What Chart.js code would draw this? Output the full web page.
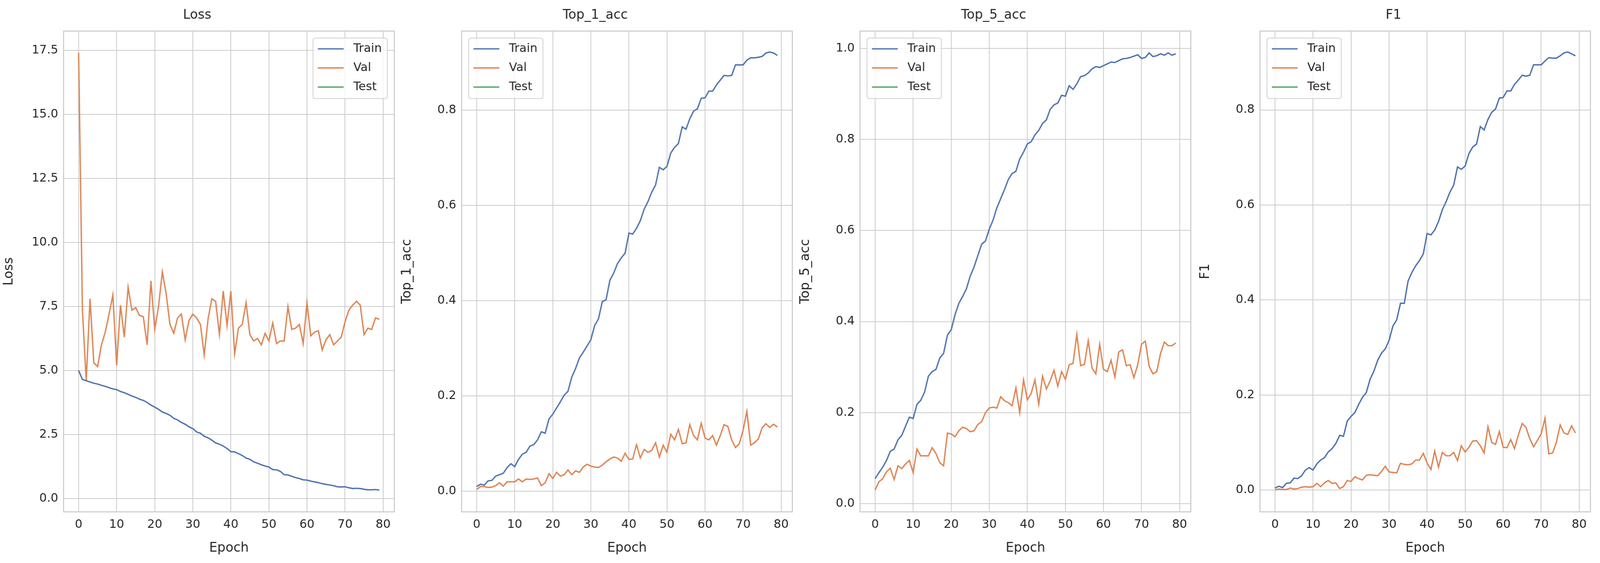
<!DOCTYPE html>
<html>
<head>
<meta charset="utf-8">
<script src="https://cdn.jsdelivr.net/npm/chart.js@4.4.1/dist/chart.umd.min.js"></script>
<style>
  html, body { margin: 0; padding: 0; background: #fff; overflow: hidden; }
  .panel { position: absolute; top: 0; width: 24.99vw; height: 100vh; }
</style>
</head>
<body>
<div class="panel" style="left:0vw"><canvas id="c0"></canvas></div>
<div class="panel" style="left:24.89vw"><canvas id="c1"></canvas></div>
<div class="panel" style="left:49.78vw"><canvas id="c2"></canvas></div>
<div class="panel" style="left:74.77vw"><canvas id="c3"></canvas></div>
<script>
const epochs = Array.from({length: 80}, (_, i) => i);
const seriesNames = ["Train", "Val", "Test"];
const seriesColors = ["#4c72b0", "#dd8452", "#55a868"];

const lossTrain = [5.0,4.65,4.6,4.55,4.5,4.47,4.42,4.38,4.33,4.28,4.25,4.18,4.13,4.07,4.0,3.95,3.88,3.83,3.75,3.65,3.57,3.48,3.38,3.32,3.25,3.13,3.07,2.97,2.9,2.8,2.73,2.6,2.55,2.43,2.37,2.28,2.17,2.12,2.05,1.95,1.83,1.82,1.75,1.68,1.58,1.53,1.43,1.38,1.32,1.27,1.23,1.13,1.12,1.06,0.93,0.92,0.87,0.82,0.78,0.73,0.72,0.68,0.65,0.62,0.58,0.55,0.53,0.5,0.46,0.45,0.46,0.42,0.39,0.4,0.39,0.36,0.34,0.34,0.35,0.33];
const lossVal = [17.4,7.35,4.6,7.8,5.3,5.15,6.0,6.5,7.2,7.95,5.2,7.55,6.3,8.25,7.35,7.45,7.15,7.1,6.0,8.5,6.6,7.5,8.85,8.0,6.8,6.45,7.05,7.2,6.2,6.95,7.2,7.05,6.8,5.6,7.0,7.8,7.7,6.4,8.1,6.75,8.1,5.65,6.65,6.8,7.65,6.4,6.15,6.25,6.0,6.45,6.15,6.85,6.05,6.15,6.15,7.5,6.6,6.65,6.8,6.05,7.65,6.35,6.5,6.55,5.8,6.2,6.4,6.0,6.15,6.3,6.9,7.35,7.55,7.7,7.55,6.4,6.65,6.6,7.05,7.0];

const top1Train = [0.01,0.015,0.013,0.022,0.023,0.032,0.035,0.038,0.05,0.058,0.052,0.067,0.078,0.082,0.095,0.098,0.108,0.125,0.122,0.152,0.162,0.175,0.188,0.202,0.21,0.24,0.258,0.28,0.292,0.305,0.318,0.348,0.362,0.398,0.402,0.443,0.458,0.478,0.49,0.5,0.542,0.54,0.552,0.568,0.592,0.608,0.628,0.643,0.68,0.675,0.682,0.71,0.722,0.73,0.765,0.76,0.782,0.798,0.803,0.825,0.826,0.84,0.84,0.853,0.863,0.873,0.872,0.873,0.895,0.895,0.895,0.905,0.91,0.91,0.911,0.913,0.92,0.922,0.92,0.915];
const top1Val = [0.004,0.01,0.01,0.008,0.009,0.012,0.018,0.011,0.02,0.02,0.02,0.026,0.02,0.026,0.025,0.026,0.028,0.012,0.018,0.037,0.027,0.04,0.032,0.035,0.045,0.035,0.043,0.04,0.051,0.057,0.053,0.051,0.05,0.055,0.062,0.068,0.072,0.07,0.063,0.08,0.067,0.068,0.098,0.07,0.088,0.082,0.086,0.102,0.072,0.097,0.082,0.12,0.108,0.13,0.1,0.102,0.14,0.117,0.108,0.143,0.112,0.108,0.117,0.097,0.117,0.14,0.136,0.108,0.092,0.1,0.128,0.168,0.097,0.102,0.11,0.133,0.142,0.134,0.141,0.135];

const top5Train = [0.055,0.068,0.08,0.095,0.115,0.12,0.14,0.15,0.17,0.19,0.187,0.218,0.227,0.245,0.28,0.29,0.295,0.32,0.33,0.37,0.382,0.415,0.44,0.455,0.472,0.5,0.52,0.545,0.57,0.577,0.603,0.623,0.65,0.67,0.69,0.712,0.725,0.73,0.757,0.772,0.79,0.795,0.81,0.82,0.835,0.843,0.866,0.876,0.88,0.897,0.895,0.918,0.91,0.922,0.938,0.94,0.946,0.955,0.96,0.958,0.962,0.966,0.97,0.969,0.973,0.977,0.978,0.98,0.983,0.986,0.978,0.98,0.99,0.982,0.984,0.988,0.985,0.99,0.985,0.988];
const top5Val = [0.03,0.048,0.055,0.07,0.078,0.053,0.083,0.077,0.087,0.095,0.068,0.12,0.105,0.105,0.105,0.123,0.11,0.09,0.083,0.155,0.153,0.147,0.16,0.168,0.165,0.158,0.16,0.174,0.18,0.2,0.21,0.212,0.21,0.235,0.226,0.222,0.215,0.254,0.2,0.272,0.228,0.242,0.272,0.218,0.28,0.252,0.27,0.293,0.258,0.29,0.273,0.305,0.308,0.372,0.303,0.306,0.358,0.298,0.285,0.35,0.295,0.29,0.315,0.278,0.333,0.338,0.303,0.305,0.277,0.305,0.35,0.357,0.302,0.285,0.29,0.33,0.355,0.347,0.347,0.353];

const f1Train = [0.004,0.008,0.005,0.014,0.015,0.025,0.024,0.03,0.042,0.047,0.042,0.055,0.063,0.068,0.08,0.087,0.098,0.115,0.113,0.145,0.155,0.163,0.18,0.195,0.205,0.233,0.25,0.273,0.288,0.297,0.315,0.345,0.358,0.393,0.393,0.44,0.458,0.472,0.483,0.497,0.54,0.537,0.547,0.565,0.59,0.607,0.627,0.642,0.68,0.675,0.682,0.708,0.722,0.728,0.765,0.758,0.78,0.795,0.802,0.825,0.826,0.84,0.84,0.854,0.863,0.873,0.871,0.873,0.895,0.895,0.895,0.903,0.91,0.909,0.909,0.914,0.92,0.922,0.918,0.914];
const f1Val = [0.0,0.002,0.001,0.001,0.004,0.002,0.003,0.006,0.007,0.006,0.007,0.014,0.007,0.015,0.02,0.014,0.015,0.003,0.007,0.02,0.018,0.028,0.024,0.021,0.031,0.032,0.031,0.03,0.039,0.05,0.038,0.037,0.036,0.056,0.054,0.053,0.055,0.063,0.063,0.077,0.057,0.043,0.082,0.048,0.079,0.072,0.072,0.079,0.062,0.093,0.08,0.09,0.103,0.104,0.093,0.078,0.133,0.1,0.096,0.123,0.09,0.089,0.106,0.087,0.116,0.14,0.132,0.108,0.091,0.104,0.118,0.151,0.076,0.078,0.1,0.137,0.12,0.117,0.135,0.12];

const FONT = "'DejaVu Sans', sans-serif";
const TEXT = "#262626";
const GRID = "#cccccc";
// sizes are worked out for a 5946px wide page, scaled to the real viewport
const S = window.innerWidth / 5946;
const px = v => v * S;

// matplotlib-like frame around the plot area + legend drawn inside it
const framePlugin = {
  id: "frame",
  afterDraw(chart, args, opts) {
    const {ctx, chartArea: a} = chart;
    ctx.save();
    ctx.strokeStyle = GRID;
    ctx.lineWidth = px(4);
    ctx.strokeRect(a.left, a.top, a.right - a.left, a.bottom - a.top);

    const rowH = px(71), lineLen = px(96), w = px(276), h = px(225);
    const x0 = opts.side === "right" ? a.right - w - px(26) : a.left + px(26);
    const y0 = a.top + px(26);
    ctx.fillStyle = "rgba(255,255,255,0.8)";
    ctx.strokeStyle = "#d0d0d0";
    ctx.lineWidth = px(3);
    ctx.beginPath();
    ctx.roundRect(x0, y0, w, h, px(8));
    ctx.fill();
    ctx.stroke();
    ctx.font = px(44) + "px " + FONT;
    ctx.textBaseline = "middle";
    seriesNames.forEach((name, i) => {
      const y = y0 + px(40) + i * rowH;
      ctx.strokeStyle = seriesColors[i];
      ctx.lineWidth = px(5);
      ctx.beginPath();
      ctx.moveTo(x0 + px(18), y);
      ctx.lineTo(x0 + px(18) + lineLen, y);
      ctx.stroke();
      ctx.fillStyle = TEXT;
      ctx.fillText(name, x0 + px(18) + lineLen + px(36), y);
    });
    ctx.restore();
  }
};

function makeChart(id, title, train, val, ymin, ymax, step, side) {
  new Chart(document.getElementById(id), {
    type: "line",
    data: {
      datasets: [
        {label: "Train", data: epochs.map((e, i) => ({x: e, y: train[i]})), borderColor: seriesColors[0]},
        {label: "Val", data: epochs.map((e, i) => ({x: e, y: val[i]})), borderColor: seriesColors[1]},
        {label: "Test", data: [], borderColor: seriesColors[2]}
      ]
    },
    plugins: [framePlugin],
    options: {
      responsive: true,
      maintainAspectRatio: false,
      animation: false,
      elements: {
        point: {radius: 0},
        line: {borderWidth: px(5), tension: 0}
      },
      layout: {padding: {top: 0, right: px(22), bottom: px(20), left: 0}},
      plugins: {
        legend: {display: false},
        tooltip: {enabled: false},
        frame: {side: side},
        title: {
          display: true,
          text: title,
          color: TEXT,
          font: {family: FONT, size: px(48), weight: "normal"},
          padding: {top: px(28), bottom: px(30)}
        }
      },
      scales: {
        x: {
          type: "linear",
          min: -3.95,
          max: 82.95,
          afterBuildTicks: s => { s.ticks = [0,10,20,30,40,50,60,70,80].map(v => ({value: v})); },
          grid: {color: GRID, lineWidth: px(3), drawTicks: false},
          border: {display: false},
          ticks: {color: TEXT, font: {family: FONT, size: px(44)}, padding: px(22)},
          title: {display: true, text: "Epoch", color: TEXT, font: {family: FONT, size: px(48)}, padding: {top: px(10)}}
        },
        y: {
          min: ymin,
          max: ymax,
          afterBuildTicks: s => {
            const t = [];
            for (let v = 0; v <= ymax + 1e-9; v += step) t.push({value: +v.toFixed(4)});
            s.ticks = t;
          },
          afterFit: s => { s.width = px(236); },
          grid: {color: GRID, lineWidth: px(3), drawTicks: false},
          border: {display: false},
          ticks: {color: TEXT, font: {family: FONT, size: px(44)}, padding: px(20), callback: v => v.toFixed(1)},
          title: {display: true, text: title, color: TEXT, font: {family: FONT, size: px(48)}, padding: {bottom: px(10)}}
        }
      }
    }
  });
}

makeChart("c0", "Loss", lossTrain, lossVal, -0.52, 18.25, 2.5, "right");
makeChart("c1", "Top_1_acc", top1Train, top1Val, -0.043, 0.966, 0.2, "left");
makeChart("c2", "Top_5_acc", top5Train, top5Val, -0.018, 1.038, 0.2, "left");
makeChart("c3", "F1", f1Train, f1Val, -0.046, 0.966, 0.2, "left");
</script>
</body>
</html>
